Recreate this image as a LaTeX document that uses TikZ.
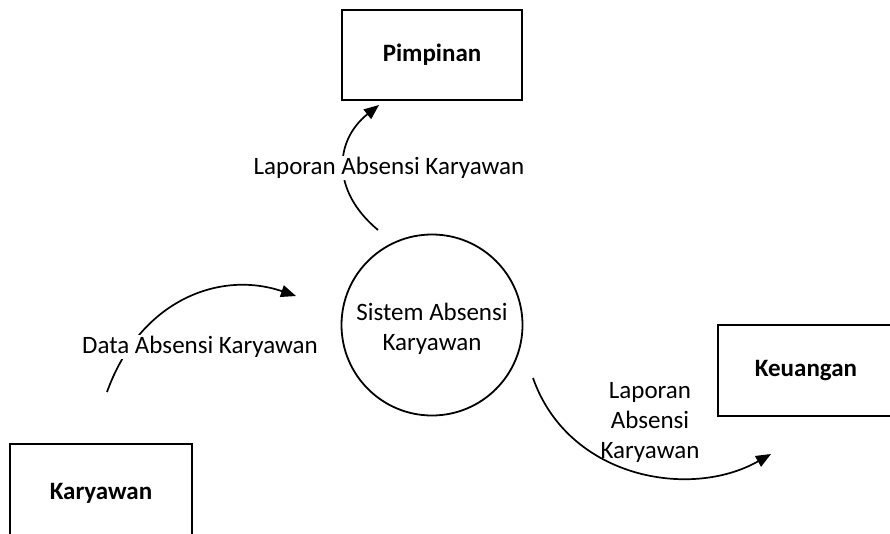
\documentclass[tikz,border=0pt]{standalone}
\usepackage{fontspec}
\setmainfont{Carlito}
\usetikzlibrary{arrows.meta}
\begin{document}
\begin{tikzpicture}[x=1pt,y=-1pt,
  txt/.style={font=\fontsize{25}{30}\selectfont},
  entity/.style={draw, line width=1.8pt, font=\bfseries\fontsize{25}{30}\selectfont, inner sep=0pt},
  proc/.style={draw, circle, line width=1.8pt, minimum size=181pt, inner sep=0pt},
  flow/.style={line width=1.7pt, -{Triangle[length=15pt,width=12pt]}},
  lbl/.style={txt, fill=white, inner sep=1pt, align=center}
]
\clip (0,0) rectangle (890,534);
\useasboundingbox (0,0) rectangle (890,534);
\fill[white] (0,0) rectangle (890,534);

\node[entity, minimum width=180pt, minimum height=90pt] (pimpinan) at (432,55) {Pimpinan};
\node[entity, minimum width=176pt, minimum height=91pt] (keuangan) at (806,370.5) {Keuangan};
\node[entity, minimum width=182pt, minimum height=98pt] (karyawan) at (101,493) {Karyawan};
\node[proc] (sistem) at (432,325) {};
\node[txt, align=center] (sistemtxt) at (432,329) {Sistem Absensi\\Karyawan};

\coordinate (a1) at (378,230);
\coordinate (a2) at (379,105);
\coordinate (b1) at (107,392);
\coordinate (b2) at (296,296);
\coordinate (c1) at (533,378);
\coordinate (c2) at (771,454);

\draw[flow] (a1) .. controls (330,190) and (335,140) .. (a2);
\draw[flow] (b1) .. controls (140,300) and (220,270) .. (b2);
\draw[flow] (c1) .. controls (568,478) and (690,500) .. (c2);

\node[lbl] (l1) at (389,168) {Laporan Absensi Karyawan};
\node[lbl] (l2) at (200,347) {Data Absensi Karyawan};
\node[lbl, fill=none] (l3) at (650,422) {Laporan\\Absensi\\Karyawan};
\end{tikzpicture}
\end{document}
